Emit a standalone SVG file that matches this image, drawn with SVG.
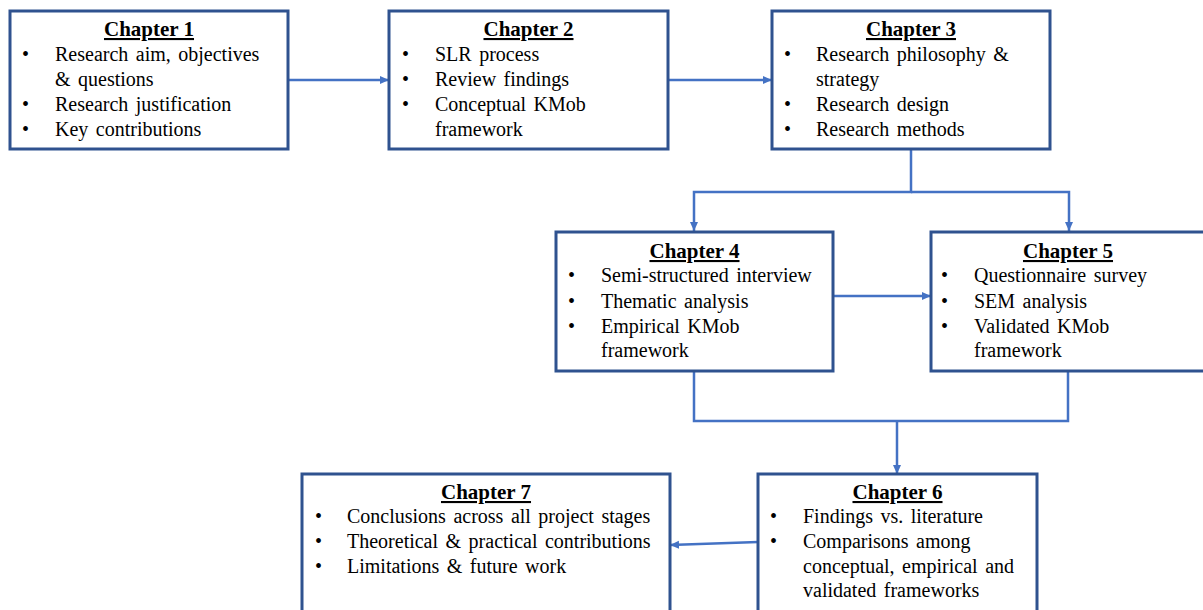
<svg xmlns="http://www.w3.org/2000/svg" width="1203" height="610" viewBox="0 0 1203 610">
  <style>
    .box { fill: #ffffff; stroke: #2F528F; stroke-width: 3; }
    .wire { fill: none; stroke: #4472C4; stroke-width: 2.5; }
    .t { font-family: "Liberation Serif", "Times New Roman", serif; font-size: 20px; word-spacing: 2.5px; fill: #000000; }
    .h { font-size: 21px; font-weight: bold; text-decoration: underline; text-anchor: middle; word-spacing: 0; }
  </style>
  <defs>
    <marker id="arrow" markerUnits="userSpaceOnUse" markerWidth="10" markerHeight="10" refX="9" refY="5" orient="auto">
      <path d="M0,1 L9,5 L0,9 Z" fill="#4472C4"/>
    </marker>
  </defs>

  <rect width="1203" height="610" fill="#ffffff"/>

  <!-- connectors -->
  <g id="connectors">
    <path class="wire" d="M289 80 H389" marker-end="url(#arrow)"/>
    <path class="wire" d="M668 80 H772" marker-end="url(#arrow)"/>
    <path class="wire" d="M911 149 V192 H694 V231" marker-end="url(#arrow)"/>
    <path class="wire" d="M911 192 H1069 V231" marker-end="url(#arrow)"/>
    <path class="wire" d="M833 296 H931" marker-end="url(#arrow)"/>
    <path class="wire" d="M694 371 V421 H1068 V371"/>
    <path class="wire" d="M897 421 V474" marker-end="url(#arrow)"/>
    <path class="wire" d="M758 542 L670 545" marker-end="url(#arrow)"/>
  </g>

  <!-- Chapter 1 -->
  <g id="chapter1">
    <rect class="box" x="10" y="11" width="278" height="138"/>
    <text class="t h" x="149" y="36">Chapter 1</text>
    <text class="t" x="22" y="61">•</text>
    <text class="t" x="55" y="61">Research aim, objectives</text>
    <text class="t" x="55" y="86">&amp; questions</text>
    <text class="t" x="22" y="111">•</text>
    <text class="t" x="55" y="111">Research justification</text>
    <text class="t" x="22" y="136">•</text>
    <text class="t" x="55" y="136">Key contributions</text>
  </g>

  <!-- Chapter 2 -->
  <g id="chapter2">
    <rect class="box" x="389" y="11" width="279" height="138"/>
    <text class="t h" x="528.5" y="36">Chapter 2</text>
    <text class="t" x="402" y="61">•</text>
    <text class="t" x="435" y="61">SLR process</text>
    <text class="t" x="402" y="86">•</text>
    <text class="t" x="435" y="86">Review findings</text>
    <text class="t" x="402" y="111">•</text>
    <text class="t" x="435" y="111">Conceptual KMob</text>
    <text class="t" x="435" y="136">framework</text>
  </g>

  <!-- Chapter 3 -->
  <g id="chapter3">
    <rect class="box" x="772" y="11" width="278" height="138"/>
    <text class="t h" x="911" y="36">Chapter 3</text>
    <text class="t" x="784" y="61">•</text>
    <text class="t" x="816" y="61">Research philosophy &amp;</text>
    <text class="t" x="816" y="86">strategy</text>
    <text class="t" x="784" y="111">•</text>
    <text class="t" x="816" y="111">Research design</text>
    <text class="t" x="784" y="136">•</text>
    <text class="t" x="816" y="136">Research methods</text>
  </g>

  <!-- Chapter 4 -->
  <g id="chapter4">
    <rect class="box" x="556" y="232" width="277" height="139"/>
    <text class="t h" x="694.5" y="258">Chapter 4</text>
    <text class="t" x="568" y="282">•</text>
    <text class="t" x="601" y="282">Semi-structured interview</text>
    <text class="t" x="568" y="308">•</text>
    <text class="t" x="601" y="308">Thematic analysis</text>
    <text class="t" x="568" y="333">•</text>
    <text class="t" x="601" y="333">Empirical KMob</text>
    <text class="t" x="601" y="357">framework</text>
  </g>

  <!-- Chapter 5 -->
  <g id="chapter5">
    <rect class="box" x="931" y="232" width="274" height="139"/>
    <text class="t h" x="1068" y="258">Chapter 5</text>
    <text class="t" x="941" y="282">•</text>
    <text class="t" x="974" y="282">Questionnaire survey</text>
    <text class="t" x="941" y="308">•</text>
    <text class="t" x="974" y="308">SEM analysis</text>
    <text class="t" x="941" y="333">•</text>
    <text class="t" x="974" y="333">Validated KMob</text>
    <text class="t" x="974" y="357">framework</text>
  </g>

  <!-- Chapter 6 -->
  <g id="chapter6">
    <rect class="box" x="758" y="474" width="279" height="145"/>
    <text class="t h" x="897.5" y="499">Chapter 6</text>
    <text class="t" x="770" y="523">•</text>
    <text class="t" x="803" y="523">Findings vs. literature</text>
    <text class="t" x="770" y="548">•</text>
    <text class="t" x="803" y="548">Comparisons among</text>
    <text class="t" x="803" y="573">conceptual, empirical and</text>
    <text class="t" x="803" y="597">validated frameworks</text>
  </g>

  <!-- Chapter 7 -->
  <g id="chapter7">
    <rect class="box" x="302" y="474" width="368" height="145"/>
    <text class="t h" x="486" y="499">Chapter 7</text>
    <text class="t" x="315" y="523">•</text>
    <text class="t" x="347" y="523">Conclusions across all project stages</text>
    <text class="t" x="315" y="548">•</text>
    <text class="t" x="347" y="548">Theoretical &amp; practical contributions</text>
    <text class="t" x="315" y="573">•</text>
    <text class="t" x="347" y="573">Limitations &amp; future work</text>
  </g>
</svg>
